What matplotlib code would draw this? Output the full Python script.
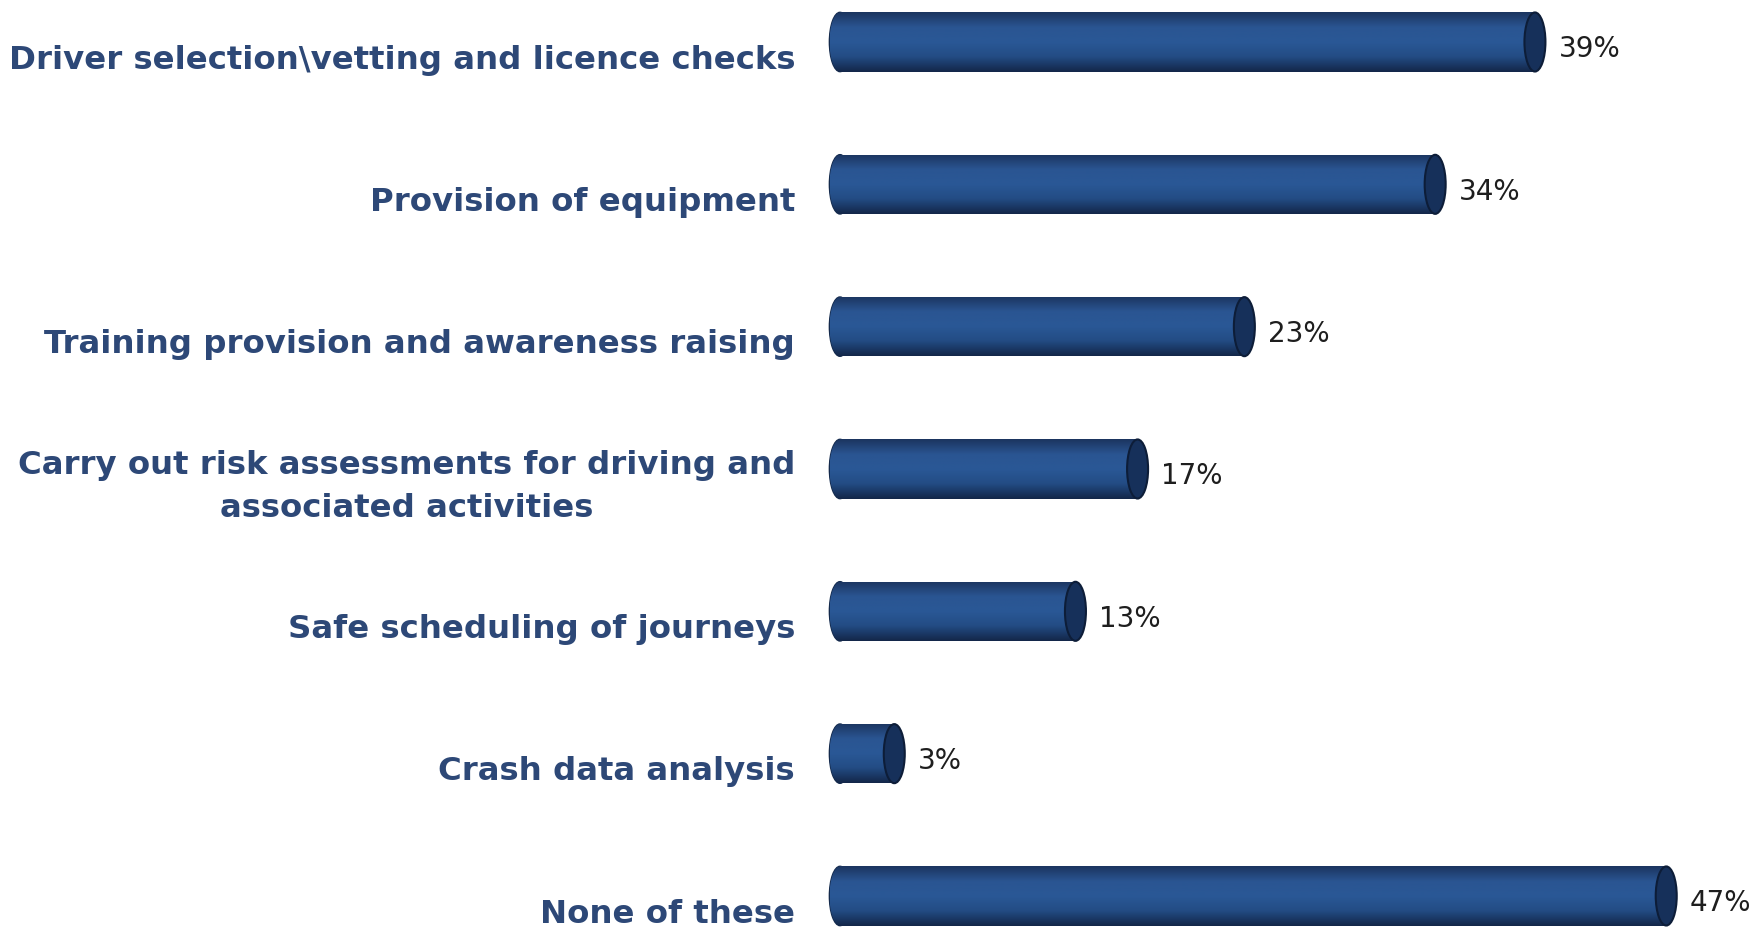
import numpy as np
import matplotlib.pyplot as plt
from matplotlib.patches import Ellipse
from matplotlib.colors import LinearSegmentedColormap

categories = [
    "Driver selection\\vetting and licence checks",
    "Provision of equipment",
    "Training provision and awareness raising",
    "Carry out risk assessments for driving and\nassociated activities",
    "Safe scheduling of journeys",
    "Crash data analysis",
    "None of these",
]
# bar lengths, printed labels as shown
values = [39.7, 34.0, 23.1, 17.0, 13.45, 3.1, 47.2]
value_labels = ["39%", "34%", "23%", "17%", "13%", "3%", "47%"]

label_color = "#2d4877"
num_color = "#1e1e1e"
bar_h = 0.415
cap_w = 1.2

fig = plt.figure(figsize=(17.52, 9.29), dpi=100)
# x = 0 sits at 840 px, 17.5 px per percent; room for the rounded left end
ax = fig.add_axes([0.47246, 0, 0.52754, 1])
ax.axis("off")

# vertical shading for the cylinder look
body_cmap = LinearSegmentedColormap.from_list(
    "cyl", ["#1b3560", "#2a5592", "#2a5896", "#234c84", "#13274a"])
grad = np.linspace(0, 1, 64).reshape(-1, 1)

for i, (v, lab) in enumerate(zip(values, value_labels)):
    y0, y1 = i + bar_h / 2, i - bar_h / 2
    # left rounded end, shaded like the body
    left = Ellipse((0, i), cap_w, bar_h, facecolor="#24508a", edgecolor="#142a4c",
                   lw=1.2, zorder=1)
    ax.add_patch(left)
    lim = ax.imshow(grad, cmap=body_cmap, aspect="auto",
                    extent=[-cap_w / 2, 0.2, y0, y1], zorder=2, interpolation="bicubic")
    lim.set_clip_path(left)
    bars = ax.barh(i, v, height=bar_h, left=0, color="#24508a", lw=0, zorder=2)
    im = ax.imshow(grad, cmap=body_cmap, aspect="auto",
                   extent=[0, v, y0, y1], zorder=3, interpolation="bicubic")
    im.set_clip_path(bars[0])
    # right end cap
    cap = Ellipse((v, i), cap_w, bar_h, facecolor="#16305a", edgecolor="#0d1d38", lw=1.5, zorder=5)
    ax.add_patch(cap)
    ax.annotate(lab, (v, i), xytext=(17, -4.5), textcoords="offset points",
                ha="left", va="center", fontsize=20, color=num_color, zorder=6)

for i, c in enumerate(categories):
    ax.text(-2.57, i + 0.12, c, ha="right", va="center", ma="center",
            fontsize=23.3, fontweight="bold", color=label_color, clip_on=False,
            linespacing=1.5)

ax.set_xlim(-0.7, 52.1)
ax.set_ylim(6.225, -0.302)
fig.savefig("out.png", dpi=100, facecolor="white")
